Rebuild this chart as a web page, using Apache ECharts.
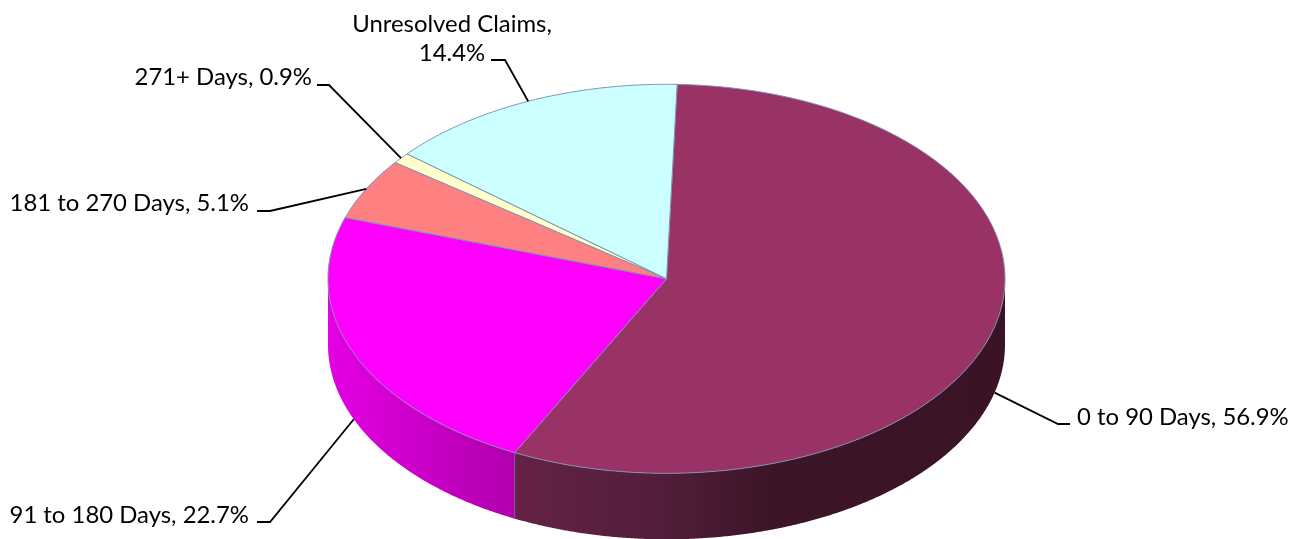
<!DOCTYPE html>
<html>
<head>
<meta charset="utf-8">
<title>Claims by age</title>
<style>html,body{margin:0;padding:0;background:#fff}#chart{width:1302px;height:539px}</style>
<script src="https://cdn.jsdelivr.net/npm/echarts@6/dist/echarts.min.js"></script>
</head>
<body>
<div id="chart"></div>
<script>
// Share of claims by age bucket, clockwise from the first slice.
const categories = ['0 to 90 Days', '91 to 180 Days', '181 to 270 Days', '271+ Days', 'Unresolved Claims'];
const shares = [56.9, 22.7, 5.1, 0.9, 14.4];
const topColors = ['#993366', '#FF00FF', '#FF8080', '#FFFFCC', '#CCFFFF'];
// Shading along the visible rim, left to right across the screen.
const rimStops = [
  [[0, '#642244'], [0.28, '#541e3b'], [0.52, '#3c1526'], [1, '#3a1425']],
  [[0, '#e400e4'], [1, '#b000ac']],
  null, null, null
];

// Tilted-disc geometry.
const disc = { cx: 666.5, cy: 278.8, rx: 338.5, ry: 194.5, depth: 66, startDeg: 1.8 };

// Label placement: text anchor and the elbow of each leader line.
const labelLayout = [
  { lines: ['0 to 90 Days, 56.9%'], x: 1077, y: 417, align: 'left', elbow: [1058, 424], tail: [1070, 424] },
  { lines: ['91 to 180 Days, 22.7%'], x: 249, y: 515, align: 'right', elbow: [270, 522], tail: [257, 522] },
  { lines: ['181 to 270 Days, 5.1%'], x: 249, y: 203, align: 'right', elbow: [270, 211], tail: [257, 211] },
  { lines: ['271+ Days, 0.9%'], x: 312, y: 77, align: 'right', elbow: [329, 85], tail: [317, 85] },
  { lines: ['Unresolved Claims,', '14.4%'], x: 452, y: 38.5, align: 'center', elbow: [505, 60], tail: [491, 60] }
];

const total = shares.reduce((a, b) => a + b, 0);
const spans = [];
let running = disc.startDeg;
shares.forEach(v => {
  const end = running + v / total * 360;
  spans.push([running, end]);
  running = end;
});

// Parametric point on the disc's rim; degrees run clockwise from the top.
function rim(deg, drop) {
  const t = deg * Math.PI / 180;
  return [disc.cx + disc.rx * Math.sin(t), disc.cy - disc.ry * Math.cos(t) + (drop || 0)];
}
function arc(from, to, drop) {
  const pts = [];
  const n = Math.max(2, Math.ceil((to - from) * 3));
  for (let i = 0; i <= n; i++) pts.push(rim(from + (to - from) * i / n, drop));
  return pts;
}

function renderWall(params, api) {
  const i = api.value(0);
  const from = Math.max(spans[i][0], 90), to = Math.min(spans[i][1], 270);
  if (to <= from || !rimStops[i]) return null;
  const upper = arc(from, to, 0), lower = arc(from, to, disc.depth).reverse();
  return {
    type: 'polygon',
    shape: { points: upper.concat(lower) },
    style: {
      fill: new echarts.graphic.LinearGradient(0, 0, 1, 0,
        rimStops[i].map(s => ({ offset: s[0], color: s[1] }))),
      stroke: null
    }
  };
}

function renderTop(params, api) {
  const i = api.value(0);
  const pts = [[disc.cx, disc.cy]].concat(arc(spans[i][0], spans[i][1], 0));
  return {
    type: 'polygon',
    shape: { points: pts },
    style: { fill: topColors[i], stroke: '#7f90b4', lineWidth: 1, lineJoin: 'round' }
  };
}

function renderSeam(params, api) {
  const i = api.value(0);
  const deg = spans[i][1];
  if (deg < 90 || deg > 270) return null;
  return {
    type: 'line',
    shape: {
      x1: rim(deg, 0)[0], y1: rim(deg, 0)[1],
      x2: rim(deg, disc.depth)[0], y2: rim(deg, disc.depth)[1]
    },
    style: { stroke: '#7a4fa8', lineWidth: 1 }
  };
}

function renderLabel(params, api) {
  const i = api.value(0);
  const mid = (spans[i][0] + spans[i][1]) / 2;
  const onWall = mid > 90 && mid < 270;
  const start = rim(mid, onWall ? disc.depth : 0);
  const lay = labelLayout[i];
  return {
    type: 'group',
    children: [
      {
        type: 'polyline',
        shape: { points: [start, lay.elbow, lay.tail] },
        style: { fill: null, stroke: '#000', lineWidth: 1.8 }
      },
      {
        type: 'text',
        style: {
          text: lay.lines.join('\n'),
          x: lay.x, y: lay.y,
          align: lay.align, verticalAlign: 'middle',
          fill: '#000',
          font: '23.9px Lato',
          lineHeight: 29
        }
      }
    ]
  };
}

const rows = categories.map((name, i) => ({ name: name, value: [i, shares[i]] }));
const base = { type: 'custom', coordinateSystem: 'none', data: rows, silent: true, animation: false, clip: false };

const chart = echarts.init(document.getElementById('chart'), null, { renderer: 'canvas' });
chart.setOption({
  backgroundColor: '#ffffff',
  animation: false,
  tooltip: { show: false },
  series: [
    Object.assign({}, base, { renderItem: renderWall, z: 1 }),
    Object.assign({}, base, { renderItem: renderSeam, z: 2 }),
    Object.assign({}, base, { renderItem: renderTop, z: 3 }),
    Object.assign({}, base, { renderItem: renderLabel, z: 4 })
  ]
});
</script>
</body>
</html>
